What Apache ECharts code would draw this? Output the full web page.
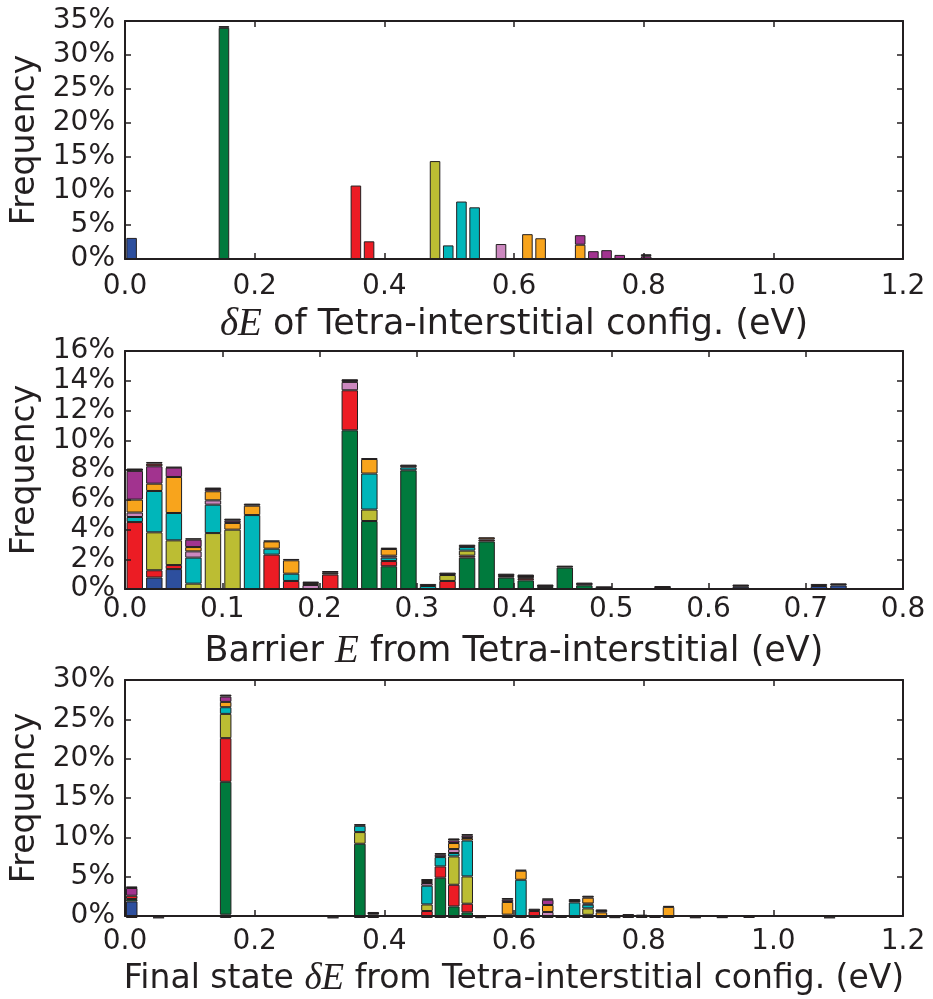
<!DOCTYPE html>
<html>
<head>
<meta charset="utf-8">
<script src="https://cdn.jsdelivr.net/npm/echarts@6/dist/echarts.min.js"></script>
<style>
  html, body { margin: 0; padding: 0; background: #ffffff; }
  #chart { width: 933px; height: 999px; }
</style>
</head>
<body>
<div id="chart"></div>
<script>
// Stack order of the configuration classes, bottom to top
const seriesNames = ['blue', 'green', 'red', 'olive', 'cyan', 'pink', 'orange', 'purple', 'darkred', 'brown', 'dark'];
const seriesColors = ['#2d4f9e', '#007a3d', '#ec1c24', '#bcbd33', '#00b6ba', '#cc88bf', '#f8a41c', '#a2338f', '#9b1c20', '#8a5a2a', '#231f20'];

// Histogram 1: deltaE of tetra-interstitial configurations  ([bin index, frequency %])
const p1BinWidth = 0.02035, p1Bins = 53;
const p1Blue = [[0, 3.1]];
const p1Green = [[7, 34.0]];
const p1Red = [[17, 10.8], [18, 2.6]];
const p1Olive = [[23, 14.4]];
const p1Cyan = [[24, 2.0], [25, 8.45], [26, 7.6]];
const p1Pink = [[28, 2.2]];
const p1Orange = [[30, 3.65], [31, 3.05], [34, 2.1]];
const p1Purple = [[34, 1.4], [35, 1.15], [36, 1.3], [37, 0.6], [39, 0.4]];
const p1DarkRed = [];
const p1Brown = [];
const p1Dark = [[2, 0.12], [7, 0.25], [15, 0.1], [27, 0.1], [32, 0.1], [39, 0.3], [41, 0.05], [42, 0.05], [45, 0.05], [47, 0.08], [52, 0.06]];

// Histogram 2: barrier energies
const p2BinWidth = 0.0201, p2Bins = 37;
const p2Blue = [[1, 0.77], [2, 1.34], [31, 0.15], [35, 0.2], [36, 0.24]];
const p2Green = [[11, 10.67], [12, 4.57], [13, 1.53], [14, 7.98], [17, 2.11], [18, 3.2], [19, 0.77], [20, 0.58], [21, 0.13], [22, 1.44], [23, 0.25]];
const p2Red = [[0, 4.5], [1, 0.49], [2, 0.27], [7, 2.31], [8, 0.54], [10, 0.97], [11, 2.69], [13, 0.35], [16, 0.54], [17, 0.13]];
const p2Olive = [[1, 2.55], [2, 1.66], [3, 0.36], [4, 3.76], [5, 3.99], [12, 0.77], [16, 0.4], [17, 0.34]];
const p2Cyan = [[0, 0.34], [1, 2.78], [2, 1.84], [3, 1.75], [4, 1.91], [6, 4.97], [7, 0.4], [8, 0.49], [12, 2.42], [13, 0.23], [14, 0.2], [15, 0.2], [17, 0.24]];
const p2Pink = [[0, 0.3], [3, 0.42], [4, 0.29], [9, 0.27], [11, 0.56], [13, 0.13]];
const p2Orange = [[0, 0.87], [1, 0.49], [2, 2.42], [3, 0.29], [4, 0.61], [5, 0.45], [6, 0.63], [7, 0.49], [8, 0.9], [9, 0.13], [12, 0.98], [13, 0.45]];
const p2Purple = [[0, 1.93], [1, 1.17], [2, 0.63], [3, 0.5], [4, 0.15], [5, 0.15]];
const p2DarkRed = [[1, 0.18], [18, 0.13], [20, 0.15]];
const p2Brown = [[10, 0.12], [18, 0.15], [19, 0.1]];
const p2Dark = [[0, 0.16], [1, 0.11], [2, 0.05], [3, 0.09], [4, 0.1], [5, 0.14], [6, 0.14], [7, 0.05], [8, 0.09], [9, 0.1], [10, 0.12], [11, 0.18], [12, 0.05], [13, 0.09], [14, 0.18], [15, 0.14], [16, 0.16], [17, 0.16], [19, 0.16], [20, 0.24], [21, 0.17], [22, 0.13], [23, 0.18], [24, 0.18], [25, 0.05], [26, 0.05], [27, 0.2], [28, 0.05], [29, 0.05], [30, 0.05], [31, 0.15], [32, 0.05], [34, 0.05], [35, 0.14], [36, 0.14]];

// Histogram 3: final-state deltaE
const p3BinWidth = 0.0207, p3Bins = 53;
const p3Blue = [[0, 2.09], [7, 0.42], [34, 0.4]];
const p3Green = [[0, 0.3], [7, 16.75], [17, 9.36], [23, 5.08], [24, 1.46], [25, 0.71], [33, 0.15], [35, 0.25]];
const p3Red = [[0, 0.42], [7, 5.5], [18, 0.25], [22, 0.88], [23, 1.42], [24, 2.73], [25, 1.09], [30, 0.88]];
const p3Olive = [[7, 3.06], [17, 1.47], [22, 0.83], [24, 3.57], [25, 3.44], [34, 0.81]];
const p3Cyan = [[7, 0.84], [17, 0.79], [22, 2.36], [23, 1.18], [24, 0.43], [25, 4.53], [28, 0.42], [29, 4.82], [33, 1.81], [34, 0.47]];
const p3Pink = [[22, 0.34], [24, 0.5], [31, 0.76], [34, 0.15]];
const p3Orange = [[7, 0.67], [18, 0.18], [22, 0.25], [24, 0.76], [25, 0.31], [28, 1.6], [29, 1.14], [31, 0.88], [34, 0.73], [35, 0.46], [40, 1.4]];
const p3Purple = [[0, 0.97], [7, 0.67], [23, 0.29], [24, 0.32], [25, 0.29], [28, 0.28], [31, 0.66]];
const p3DarkRed = [];
const p3Brown = [];
const p3Dark = [[0, 0.2], [2, 0.06], [7, 0.25], [15, 0.06], [17, 0.22], [18, 0.33], [22, 0.25], [23, 0.22], [24, 0.26], [25, 0.21], [26, 0.1], [28, 0.22], [29, 0.12], [30, 0.29], [31, 0.17], [32, 0.29], [33, 0.43], [34, 0.25], [35, 0.37], [36, 0.1], [37, 0.5], [38, 0.42], [39, 0.2], [40, 0.12], [42, 0.08], [44, 0.1], [46, 0.15], [52, 0.06]];

// Axis ranges and tick steps
const xMax = [1.2, 0.8, 1.2];
const xStep = [0.2, 0.1, 0.2];
const yMax = [35, 16, 30];
const yStep = [5, 2, 5];
const xNames = [
  '{m|δE} of Tetra-interstitial config. (eV)',
  'Barrier {m|E} from Tetra-interstitial (eV)',
  'Final state {m|δE} from Tetra-interstitial config. (eV)'
];

const panels = [
  { width: p1BinWidth, bins: p1Bins, stacks: [p1Blue, p1Green, p1Red, p1Olive, p1Cyan, p1Pink, p1Orange, p1Purple, p1DarkRed, p1Brown, p1Dark] },
  { width: p2BinWidth, bins: p2Bins, stacks: [p2Blue, p2Green, p2Red, p2Olive, p2Cyan, p2Pink, p2Orange, p2Purple, p2DarkRed, p2Brown, p2Dark] },
  { width: p3BinWidth, bins: p3Bins, stacks: [p3Blue, p3Green, p3Red, p3Olive, p3Cyan, p3Pink, p3Orange, p3Purple, p3DarkRed, p3Brown, p3Dark] }
];

// Layout
const FONT = 'DejaVu Sans';
const INK = '#231f20';
const gridLeft = 125, gridWidth = 778, gridHeight = 238;
const gridTops = [21, 351, 680];
const barFill = ['80%', '84%', '86%'];
const labelMargin = [14, 7, 12];
const nameGaps = [46, 43, 45];
const nameSizes = [35, 35, 33];

// Dense per-bin values; empty bins stay null so they are not drawn
function binValues(pairs, bins) {
  const vals = new Array(bins).fill(null);
  pairs.forEach(([b, v]) => { vals[b] = v; });
  return vals;
}
function binLabels(bins, width) {
  const out = [];
  for (let i = 0; i < bins; i++) out.push(((i + 0.5) * width).toFixed(4));
  return out;
}

const grid = [];
const xAxis = [];
const yAxis = [];
const series = [];

const tickStyle = { show: true, inside: true, length: 6, lineStyle: { color: INK, width: 1.5 } };
const lineStyle = { show: true, onZero: false, lineStyle: { color: INK, width: 2 } };

panels.forEach((panel, p) => {
  const top = gridTops[p];
  // Frame grid: value axes carrying ticks, labels and names
  grid.push({ left: gridLeft, top: top, width: gridWidth, height: gridHeight });
  // Histogram grid: one category band per bin, same pixel scale as the value axis
  const binPx = panel.width * gridWidth / xMax[p];
  grid.push({ left: gridLeft, top: top, width: binPx * panel.bins, height: gridHeight });
  const frame = 2 * p, hist = 2 * p + 1;

  xAxis.push({
    type: 'value', gridIndex: frame, position: 'bottom', min: 0, max: xMax[p], interval: xStep[p],
    axisLine: lineStyle, axisTick: tickStyle, splitLine: { show: false },
    axisLabel: { color: INK, fontFamily: FONT, fontSize: 28, margin: labelMargin[p], formatter: v => v.toFixed(1) },
    name: xNames[p], nameLocation: 'middle', nameGap: nameGaps[p],
    nameTextStyle: {
      color: INK, fontFamily: FONT, fontSize: nameSizes[p],
      rich: { m: { fontFamily: 'Liberation Serif', fontStyle: 'italic', fontSize: nameSizes[p] + 4, color: INK } }
    },
    z: 5
  });
  xAxis.push({
    type: 'category', gridIndex: hist, data: binLabels(panel.bins, panel.width), boundaryGap: true,
    show: false
  });
  yAxis.push({
    type: 'value', gridIndex: frame, position: 'left', min: 0, max: yMax[p], interval: yStep[p],
    axisLine: lineStyle, axisTick: tickStyle, splitLine: { show: false },
    axisLabel: { color: INK, fontFamily: FONT, fontSize: 28, margin: 10, formatter: v => v + '%' },
    name: 'Frequency', nameLocation: 'middle', nameRotate: 90, nameGap: 79,
    nameTextStyle: { color: INK, fontFamily: FONT, fontSize: 33 },
    z: 5
  });
  yAxis.push({
    type: 'value', gridIndex: hist, min: 0, max: yMax[p], interval: yStep[p], show: false
  });

  panel.stacks.forEach((pairs, s) => {
    if (!pairs.length) return;
    series.push({
      type: 'bar',
      name: seriesNames[s],
      xAxisIndex: hist,
      yAxisIndex: hist,
      stack: 'panel' + p,
      barWidth: barFill[p],
      data: binValues(pairs, panel.bins),
      itemStyle: { color: seriesColors[s], borderColor: INK, borderWidth: 1 },
      emphasis: { disabled: true },
      silent: true
    });
  });
});

// Mirrored top and right axes for the inward ticks on all four sides
panels.forEach((panel, p) => {
  xAxis.push({
    type: 'value', gridIndex: 2 * p, position: 'top', min: 0, max: xMax[p], interval: xStep[p],
    axisLine: lineStyle, axisTick: tickStyle, axisLabel: { show: false }, splitLine: { show: false }, z: 5
  });
  yAxis.push({
    type: 'value', gridIndex: 2 * p, position: 'right', min: 0, max: yMax[p], interval: yStep[p],
    axisLine: lineStyle, axisTick: tickStyle, axisLabel: { show: false }, splitLine: { show: false }, z: 5
  });
});

const chart = echarts.init(document.getElementById('chart'), null, { renderer: 'canvas' });
chart.setOption({
  backgroundColor: '#ffffff',
  animation: false,
  textStyle: { fontFamily: FONT },
  grid, xAxis, yAxis, series
});
</script>
</body>
</html>
